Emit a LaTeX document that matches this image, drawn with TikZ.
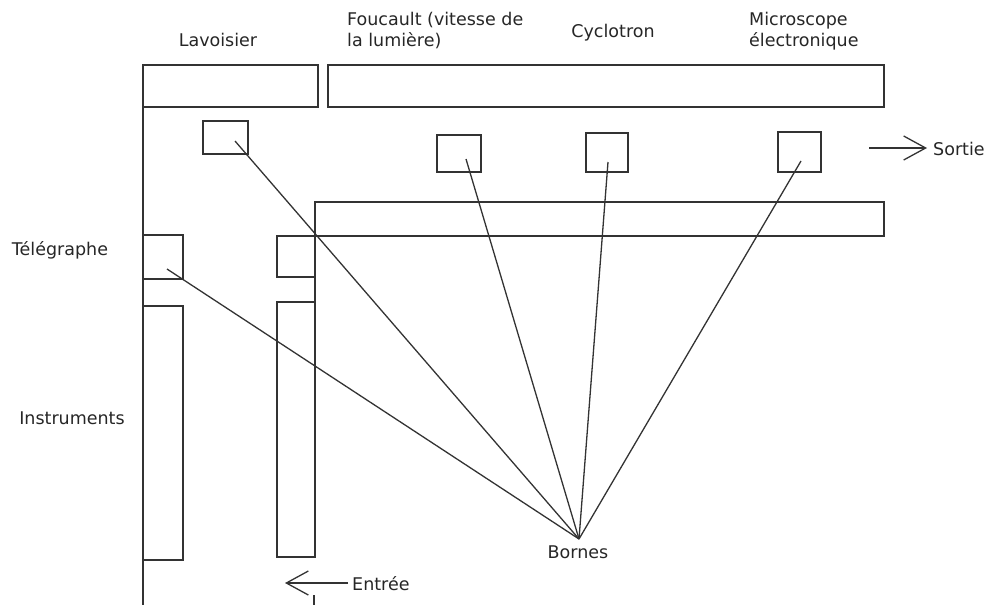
\documentclass[tikz,border=0pt]{standalone}
\usepackage{fontspec}
\setmainfont{DejaVu Sans}
\usetikzlibrary{arrows.meta}

\begin{document}
\begin{tikzpicture}[x=1pt,y=-1pt,
   wall/.style={draw=black!80, line width=1.5pt},
   vitrine/.style={wall, rectangle, inner sep=0pt},
   fil/.style={draw=black!80, line width=1.3pt},
   fleche/.style={draw=black!80, line width=1.3pt, -{Straight Barb[length=22pt,width=24pt]}},
   lbl/.style={text=black!85, font=\fontsize{17.5}{21}\selectfont, inner sep=0pt}]
   \useasboundingbox (0,0) rectangle (991,605);
   % murs
   \draw [wall] (143,605) -- (143,65);
   \draw [wall] (143,65) rectangle (318,107);
   \draw [wall] (328,65) rectangle (884,107);
   \draw [wall] (315,557) -- (315,202) -- (884,202) -- (884,236) -- (277,236);
   \draw [wall] (277,236) rectangle (315,277);
   \draw [wall] (277,302) rectangle (315,557);
   \draw [wall] (143,235) rectangle (183,279);
   \draw [wall] (143,306) rectangle (183,560);
   \draw [wall] (314,595) -- (314,605);
   % vitrines
   \node [vitrine, minimum width=45pt, minimum height=33pt] (lavbox) at (225.5,137.5) {};
   \node [vitrine, minimum width=44pt, minimum height=37pt] (foubox) at (459,153.5) {};
   \node [vitrine, minimum width=42pt, minimum height=39pt] (cycbox) at (607,152.5) {};
   \node [vitrine, minimum width=43pt, minimum height=40pt] (micbox) at (799.5,152) {};
   \coordinate (lav) at (235,141);
   \coordinate (fou) at (466,159);
   \coordinate (cyc) at (608,162);
   \coordinate (mic) at (801,161);
   \coordinate (tel) at (167,269);
   \coordinate (bor) at (579,539);
   % fils vers les bornes
   \foreach \p in {lav,fou,cyc,mic,tel}
      \draw [fil] (bor) -- (\p);
   % entree et sortie
   \coordinate (ent1) at (348,583);
   \coordinate (ent2) at (285,583);
   \coordinate (sor1) at (869,148);
   \coordinate (sor2) at (927,148);
   \draw [fleche] (ent1) -- (ent2);
   \draw [fleche] (sor1) -- (sor2);
   % textes
   \node [lbl] (lavt) at (218,40) {Lavoisier};
   \node [lbl, anchor=west, align=left] (fout) at (347,31) {Foucault (vitesse de\\la lumière)};
   \node [lbl] (cyct) at (613,33) {Cyclotron};
   \node [lbl, anchor=west, align=left] (mict) at (749,31) {Microscope\\électronique};
   \node [lbl] (telt) at (60,250) {Télégraphe};
   \node [lbl] (inst) at (72,418) {Instruments};
   \node [lbl] (bort) at (578,552) {Bornes};
   \node [lbl, anchor=west] (entt) at (352,584) {Entrée};
   \node [lbl, anchor=west] (sort) at (933,149) {Sortie};
\end{tikzpicture}
\end{document}
